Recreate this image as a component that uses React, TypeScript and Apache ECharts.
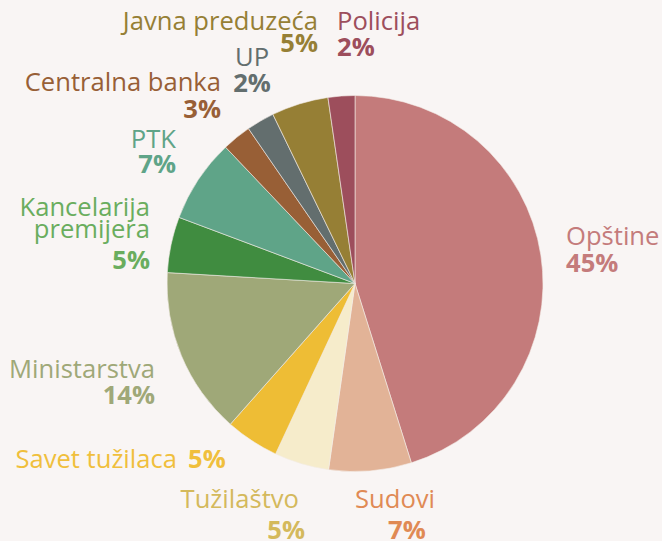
import React, { useEffect, useRef } from "react";
import * as echarts from "echarts";

const categories = [
  "Opštine",
  "Sudovi",
  "Tužilaštvo",
  "Savet tužilaca",
  "Ministarstva",
  "Kancelarija premijera",
  "PTK",
  "Centralna banka",
  "UP",
  "Javna preduzeća",
  "Policija",
];
const values = [45.2, 7.1, 4.7, 4.6, 14.4, 4.8, 7.2, 2.5, 2.4, 4.9, 2.3];
const sliceColors = [
  "#c47b7b", "#e2b397", "#f6eccb", "#eebd35", "#9fa878", "#408c40",
  "#5fa488", "#985f36", "#636e6e", "#967f35", "#9d4e5c",
];
const labelColors = [
  "#c47b7b", "#e08a54", "#d4b95c", "#f0bf3c", "#9fa878", "#6aad5e",
  "#5fa488", "#985f36", "#636e6e", "#967f35", "#9d4e5c",
];

// label placement (layout only)
const labelLayout = [
  { nx: 566, ny: 235.3, na: "left", px: 566, py: 262.5, pa: "left" },
  { nx: 355, ny: 498, na: "left", px: 388, py: 529.5, pa: "left" },
  { nx: 299, ny: 498, na: "right", px: 305, py: 529.5, pa: "right" },
  { nx: 177, ny: 458, na: "right", px: 188, py: 458, pa: "left" },
  { nx: 155, ny: 368.5, na: "right", px: 155, py: 394, pa: "right" },
  { nx: 150, ny: 217.5, na: "right", px: 150, py: 259.7, pa: "right", wrap: true },
  { nx: 176, ny: 138.3, na: "right", px: 176, py: 163.3, pa: "right" },
  { nx: 221, ny: 81.2, na: "right", px: 221, py: 108.7, pa: "right" },
  { nx: 252, ny: 56.8, na: "center", px: 252, py: 82.8, pa: "center" },
  { nx: 318, ny: 20.8, na: "right", px: 318, py: 42.5, pa: "right" },
  { nx: 337, ny: 20.8, na: "left", px: 337, py: 46.5, pa: "left" },
];

const FONT = '"Open Sans", "Noto Sans", sans-serif';

export default function App() {
  const ref = useRef<HTMLDivElement>(null);
  useEffect(() => {
    if (!ref.current) return;
    const chart = echarts.init(ref.current, null, { renderer: "svg" });
    const graphics: any[] = [];
    categories.forEach((name, i) => {
      const l: any = labelLayout[i];
      graphics.push({
        type: "text",
        x: l.nx,
        y: l.ny,
        silent: true,
        style: {
          text: l.wrap ? name.replace(" ", "\n") : name,
          fill: labelColors[i],
          font: `400 25.6px ${FONT}`,
          align: l.na,
          verticalAlign: "middle",
          lineHeight: 21.6,
        },
      });
      graphics.push({
        type: "text",
        x: l.px,
        y: l.py,
        silent: true,
        style: {
          text: `${Math.round(values[i])}%`,
          fill: labelColors[i],
          font: `700 25.6px ${FONT}`,
          align: l.pa,
          verticalAlign: "middle",
        },
      });
    });
    chart.setOption({
      animation: false,
      backgroundColor: "#f9f5f4",
      graphic: graphics,
      series: [
        {
          type: "pie",
          center: [355, 283.5],
          radius: [0, 188],
          startAngle: 90,
          clockwise: true,
          label: { show: false },
          labelLine: { show: false },
          silent: true,
          itemStyle: { borderColor: "#f3ece8", borderWidth: 0.6 },
          data: categories.map((name, i) => ({
            name,
            value: values[i],
            itemStyle: { color: sliceColors[i] },
          })),
        },
      ],
    });
    return () => chart.dispose();
  }, []);
  return (
    <div
      ref={ref}
      style={{ position: "fixed", left: 0, top: 0, width: 662, height: 541 }}
    />
  );
}
